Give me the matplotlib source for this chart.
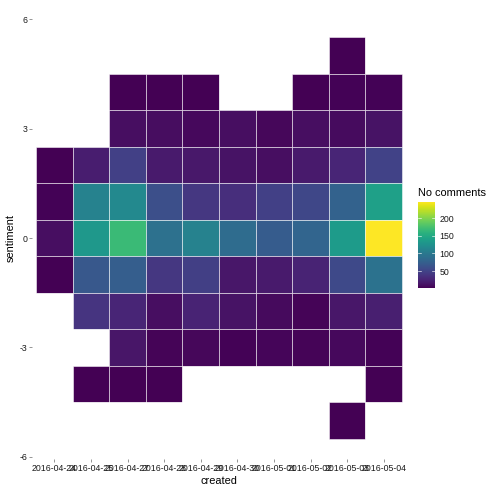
import matplotlib
matplotlib.use("Agg")
import matplotlib.pyplot as plt
import numpy as np

plt.rcParams['font.family'] = ['Liberation Sans', 'DejaVu Sans']

dates = ["2016-04-24", "2016-04-25", "2016-04-27", "2016-04-28", "2016-04-29",
         "2016-04-30", "2016-05-01", "2016-05-02", "2016-05-03", "2016-05-04"]
sentiments = [5, 4, 3, 2, 1, 0, -1, -2, -3, -4, -5]

# comment counts per sentiment row, one value per date (None = no tile)
row_5 = [None, None, None, None, None, None, None, None, 1, None]
row_4 = [None, None, 1, 1, 1, None, None, 1, 2, 2]
row_3 = [None, None, 10, 9, 6, 10, 5, 10, 8, 13]
row_2 = [1, 21, 48, 18, 17, 13, 10, 18, 26, 50]
row_1 = [2, 109, 117, 60, 40, 33, 48, 53, 77, 140]
row_0 = [10, 132, 168, 92, 109, 87, 72, 80, 135, 247]
row_m1 = [1, 68, 74, 40, 47, 16, 18, 25, 55, 94]
row_m2 = [None, 38, 26, 10, 25, 13, 7, 3, 16, 22]
row_m3 = [None, None, 15, 3, 5, 2, 4, 3, 6, 2]
row_m4 = [None, 1, 1, 1, None, None, None, None, None, 1]
row_m5 = [None, None, None, None, None, None, None, None, 1, None]

rows = [row_5, row_4, row_3, row_2, row_1, row_0, row_m1, row_m2, row_m3, row_m4, row_m5]

W = 504.0
fig = plt.figure(figsize=(7, 7), dpi=72)
ax = fig.add_axes([32.4 / W, (W - 458.8) / W, (405.7 - 32.4) / W, (458.8 - 17.2) / W])

grid = np.array([[np.nan if v is None else v for v in r] for r in rows], dtype=float)
grid = np.ma.masked_invalid(grid)
xs = np.arange(len(dates) + 1) + 0.5
ys = np.array(sentiments + [sentiments[-1] - 1]) + 0.5
vmin, vmax = 1, 247
mesh = ax.pcolormesh(xs, ys, grid, cmap='viridis', vmin=vmin, vmax=vmax,
                     edgecolors='white', linewidth=0.5, antialiased=True)

ax.set_xlim(0.4, len(dates) + 0.6)
ax.set_ylim(-6.05, 6.05)
ax.set_xticks(np.arange(1, len(dates) + 1))
ax.set_xticklabels(dates)
ax.set_yticks([-6, -3, 0, 3, 6])
ax.set_yticklabels(["-6", "-3", "0", "3", "6"])
for s in ax.spines.values():
    s.set_visible(False)
ax.tick_params(length=2.75, width=0.5, color='#333333', labelsize=8.8,
               labelcolor='#1a1a1a', pad=2)
ax.set_xlabel("created", fontsize=11, labelpad=3)
ax.set_ylabel("sentiment", fontsize=11, labelpad=4)

# colour bar
cax = fig.add_axes([417.7 / W, (W - 288.3) / W, 17.6 / W, 86.6 / W])
cb = fig.colorbar(mesh, cax=cax)
cb.outline.set_visible(False)
cb.set_ticks([50, 100, 150, 200])
cax.tick_params(length=0, labelsize=8.8, labelcolor='#1a1a1a', pad=4)
for t in [50, 100, 150, 200]:
    cax.plot([0, 0.2], [t, t], color='white', lw=0.6)
    cax.plot([0.8, 1], [t, t], color='white', lw=0.6)
cax.set_xlim(0, 1)
fig.text(417.7 / W, (W - 193) / W, "No comments", fontsize=11, ha='left', va='center')

fig.savefig("out.png", dpi=72, facecolor='white')
